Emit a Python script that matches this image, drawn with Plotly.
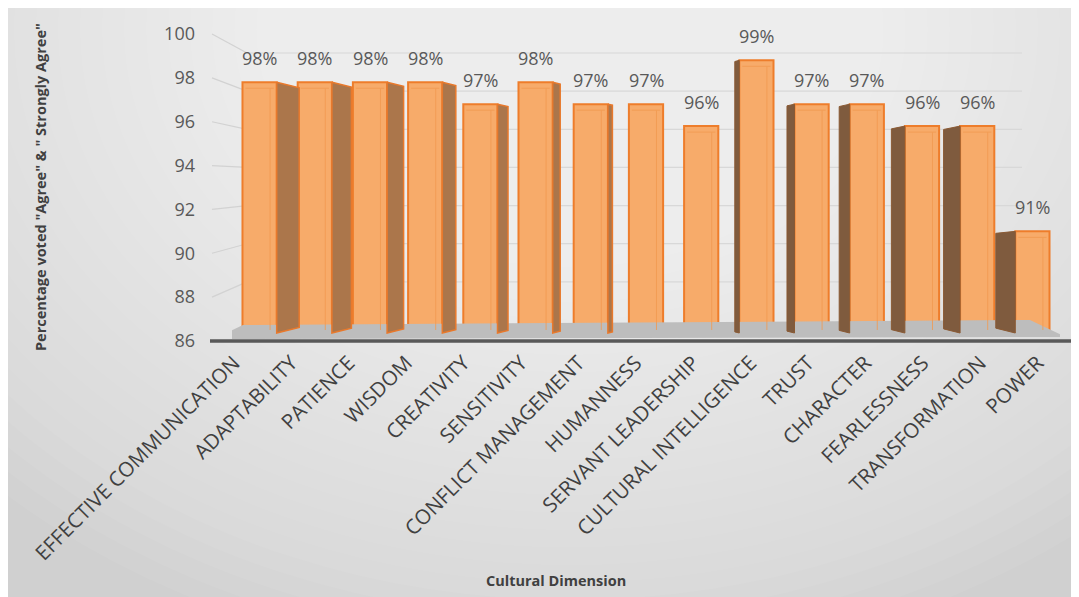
import plotly.graph_objects as go

categories = ["EFFECTIVE COMMUNICATION", "ADAPTABILITY", "PATIENCE", "WISDOM", "CREATIVITY",
              "SENSITIVITY", "CONFLICT MANAGEMENT", "HUMANNESS", "SERVANT LEADERSHIP",
              "CULTURAL INTELLIGENCE", "TRUST", "CHARACTER", "FEARLESSNESS",
              "TRANSFORMATION", "POWER"]
values = [97.8, 97.8, 97.8, 97.8, 96.8, 97.8, 96.8, 96.8, 95.8, 98.8, 96.8, 96.8, 95.8, 95.8, 91.0]
y_ticks = [86, 88, 90, 92, 94, 96, 98, 100]

# page has an 8px body margin: the figure is drawn 8px in from the top-left
OFF = 8
W, H = 1079, 597
PL, PR, PT, PB = 232, 1060, 34, 341     # plot area in page pixels
XMIN, XMAX = -0.5, 14.5
YMIN, YMAX = 86, 100
FONT = "Open Sans"

def xu(p):
    return XMIN + (p - PL) / (PR - PL) * (XMAX - XMIN)

def yu(p):
    return YMIN + (PB - p) / (PB - PT) * (YMAX - YMIN)

def xpap(p):
    return (p - PL) / (PR - PL)

def ypap(p):
    return (PB - p) / (PB - PT)

ux = (XMAX - XMIN) / (PR - PL)   # units per px (x)
uy = (YMAX - YMIN) / (PB - PT)   # units per px (y)

BASE = yu(333)
BAR_W = 0.62
idx = list(range(len(categories)))

fig = go.Figure()

# floor
fx = [xu(213), xu(243), xu(1030), xu(1066), xu(213)]
fy = [yu(339), yu(325), yu(320), yu(337), yu(339)]
fig.add_trace(go.Scatter(x=fx, y=fy, fill="toself", fillcolor="#bdbdbd", mode="lines",
                         line=dict(width=0), hoverinfo="skip", showlegend=False))

# side faces (perspective)
rx, ry, lx, ly = [], [], [], []
for i, v in zip(idx, values):
    d_px = 3.0 * (7.5 - i)
    if abs(d_px) < 2:
        continue
    d = d_px * ux
    drop = 0.25 * abs(d_px) * (v - BASE) / 11.5 * uy
    rise = 0.25 * abs(d_px) * uy
    xf = i + BAR_W / 2 if d > 0 else i - BAR_W / 2
    xb = xf + d
    px = [xf, xb, xb, xf, xf, None]
    py = [v, v - drop, BASE + rise, BASE, v, None]
    if d > 0:
        rx += px; ry += py
    else:
        lx += px; ly += py
fig.add_trace(go.Scatter(x=rx, y=ry, fill="toself", fillcolor="#ab764b", mode="lines",
                         line=dict(width=1.5, color="#e8792c"), hoverinfo="skip", showlegend=False))
fig.add_trace(go.Scatter(x=lx, y=ly, fill="toself", fillcolor="#7f5b3e", mode="lines",
                         line=dict(width=1, color="#8a5a34"), hoverinfo="skip", showlegend=False))

# bars (front faces)
fig.add_trace(go.Bar(x=idx, y=[v - BASE for v in values], base=BASE, width=BAR_W,
                     marker=dict(color="#f7ab6a", line=dict(color="#ee7d2b", width=2)),
                     hoverinfo="skip", showlegend=False))

# bevel lines inside bars
bx, by = [], []
for i, v in zip(idx, values):
    top_in = v - 6 * uy
    xl = i - BAR_W / 2 + 3 * ux
    xr = i + BAR_W / 2 - 3 * ux
    xv = i + 0.19
    bx += [xl, xr, None, xv, xv, None]
    by += [top_in, top_in, None, top_in, BASE + 3 * uy, None]
fig.add_trace(go.Scatter(x=bx, y=by, mode="lines", line=dict(color="#f29a50", width=1),
                         opacity=0.8, hoverinfo="skip", showlegend=False))

shapes = []
# background with soft radial light
shapes.append(dict(type="rect", xref="paper", yref="paper", x0=xpap(0), x1=xpap(W + 2),
                   y0=ypap(H + 2), y1=ypap(0), fillcolor="#d0d0d0", line=dict(width=0),
                   layer="below"))
N = 30
for k in range(N):
    rxp = 820 - 22 * k
    ryp = 640 - 17.5 * k
    cx, cy = 570, 30
    shapes.append(dict(type="circle", xref="paper", yref="paper",
                       x0=xpap(cx - rxp), x1=xpap(cx + rxp),
                       y0=ypap(cy + ryp), y1=ypap(cy - ryp),
                       fillcolor="rgba(255,255,255,0.05)", line=dict(width=0), layer="below"))

# back-wall gridlines + receding side-wall segments
for t in y_ticks[1:]:
    back_p = 320 - (t - 86) * 19.07
    front_p = PB - (t - 86) / uy
    shapes.append(dict(type="line", xref="paper", yref="paper",
                       x0=xpap(212), y0=ypap(front_p), x1=xpap(247), y1=ypap(back_p),
                       line=dict(color="#d2d2d2", width=1.2), layer="below"))
    shapes.append(dict(type="line", xref="paper", yref="paper",
                       x0=xpap(247), y0=ypap(back_p), x1=xpap(1022), y1=ypap(back_p),
                       line=dict(color="#d8d8d8", width=1.2), layer="below"))

# category axis line
shapes.append(dict(type="line", xref="paper", yref="paper",
                   x0=xpap(210), x1=xpap(W + 2), y0=ypap(341), y1=ypap(341),
                   line=dict(color="#595959", width=3.5)))

annotations = []
for i, v in zip(idx, values):
    annotations.append(dict(x=i, y=v, xref="x", yref="y", text=f"{round(v)}%",
                            showarrow=False, yanchor="middle", yshift=24.5,
                            font=dict(family=FONT, size=18, color="#595959")))
annotations.append(dict(xref="paper", yref="paper", x=xpap(40), y=ypap(187),
                        text='Percentage voted "Agree" & " Strongly Agree"', textangle=-90,
                        showarrow=False, xanchor="center", yanchor="middle",
                        font=dict(family=FONT, size=14.5, color="#404040", weight="bold")))
annotations.append(dict(xref="paper", yref="paper", x=xpap(556), y=ypap(580),
                        text="Cultural Dimension", showarrow=False,
                        xanchor="center", yanchor="middle",
                        font=dict(family=FONT, size=14.5, color="#404040", weight="bold")))

# category label anchors (labels fan out slightly wider than the bars)
label_pos = [xu(234 + 57.4 * i) for i in idx]

fig.update_layout(
    width=W - OFF, height=H - OFF,
    margin=dict(l=PL - OFF, r=W - PR, t=PT - OFF, b=H - PB),
    paper_bgcolor="white", plot_bgcolor="rgba(0,0,0,0)",
    shapes=shapes, annotations=annotations,
    xaxis=dict(range=[XMIN, XMAX], tickmode="array", tickvals=label_pos, ticktext=categories,
               tickangle=-45, showgrid=False, zeroline=False, showline=False, ticks="",
               ticklabelstandoff=5, fixedrange=True,
               tickfont=dict(family=FONT, size=20.5, color="#404040")),
    yaxis=dict(range=[YMIN, YMAX], tickmode="array", tickvals=y_ticks, showgrid=False,
               zeroline=False, showline=False, ticks="", ticklabelstandoff=36,
               tickfont=dict(family=FONT, size=18, color="#595959")),
)

fig.write_html("out.html")
